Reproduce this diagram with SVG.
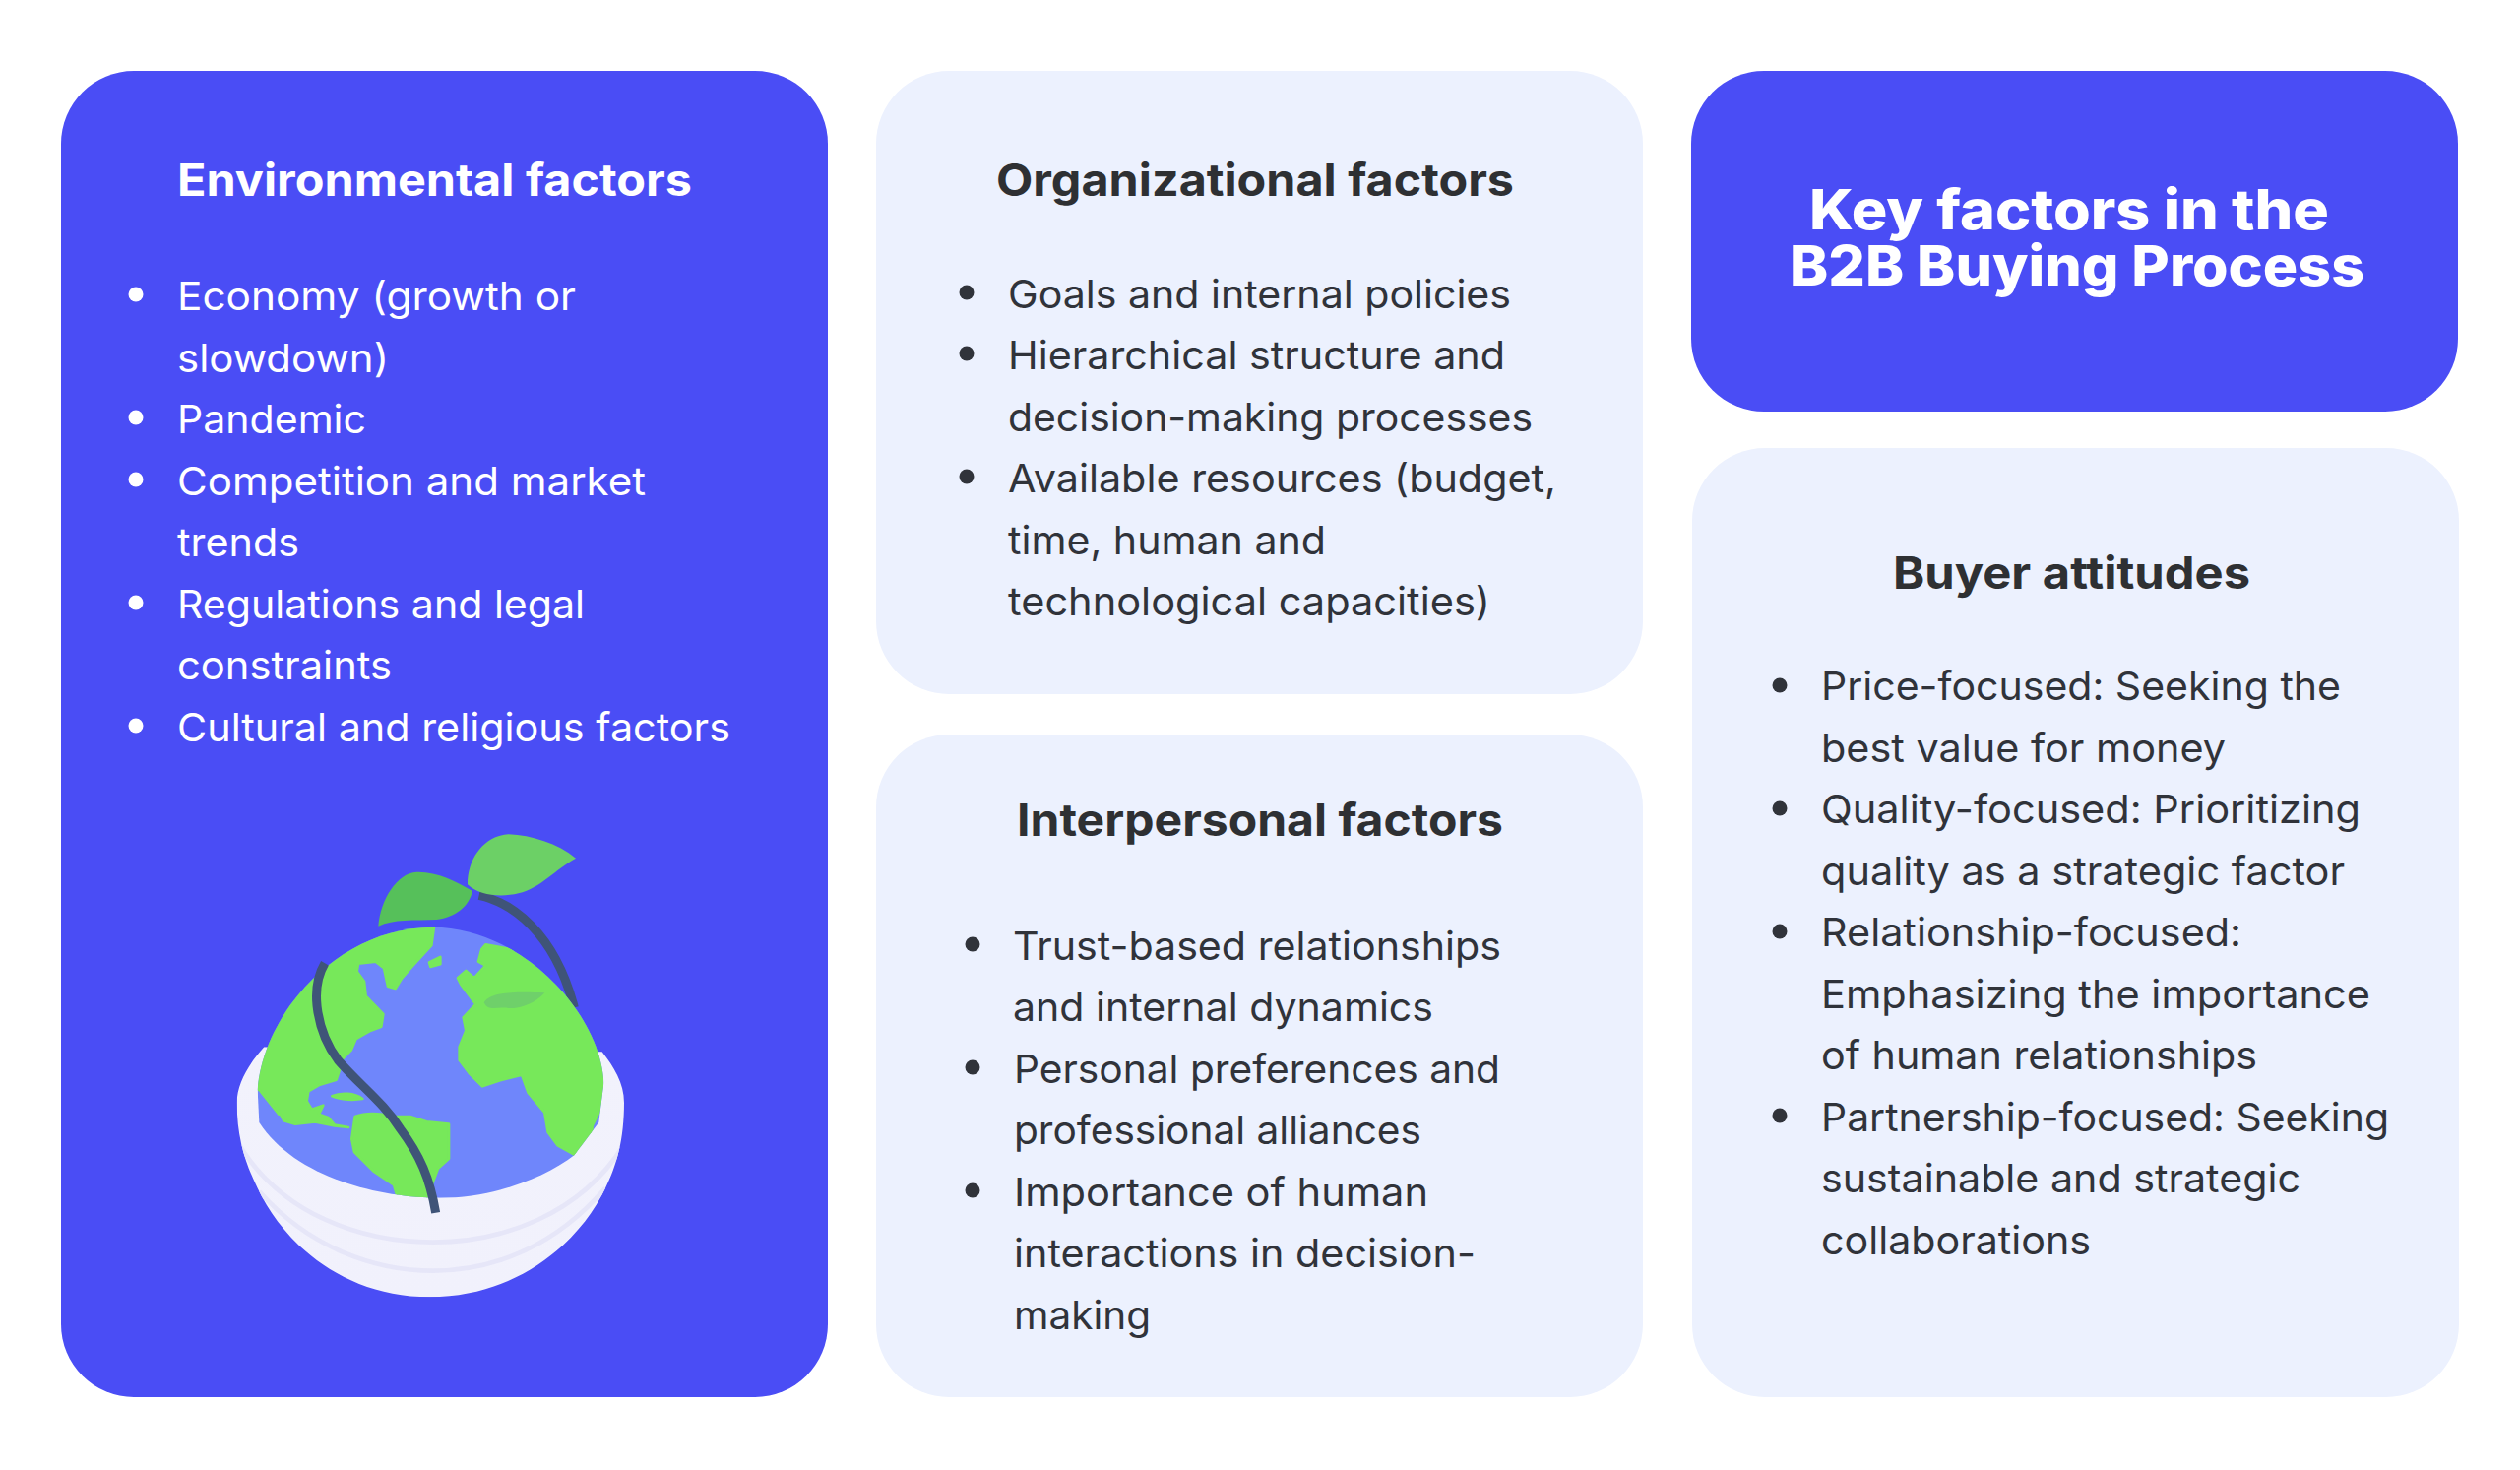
<svg xmlns="http://www.w3.org/2000/svg" width="2560" height="1493" viewBox="0 0 2560 1493">
<style>
text{font-family:Inter,"Noto Sans","Liberation Sans",sans-serif}
.blue{fill:#4a4df5}
.pale{fill:#ecf1fe}
.h{font-size:45px;font-weight:700}
.b{font-size:40px;font-weight:400}
.k{font-size:56px;font-weight:800;fill:#fff}
.w{fill:#fff}
.d{fill:#30333a}
.hd{fill:#2e3033}
.land{fill:#77e85a;stroke:#77e85a;stroke-width:8;stroke-linejoin:round}
.stem{fill:none;stroke:#3f5478;stroke-width:27}
.band{fill:none;stroke:#e6e6f8;stroke-width:14}
</style>
<defs>
<clipPath id="globeClip"><path d="M185 860C200 640 420 365 720 365C980 365 1230 620 1240 840L1225 960L1150 1060C1060 1130 900 1190 740 1190C560 1190 300 1130 190 960Z"/></clipPath>
<clipPath id="bowlClip"><path d="M122 900C122 1010 150 1090 185 1160C260 1320 440 1492 710 1492C980 1492 1170 1320 1245 1160C1280 1090 1302 1010 1302 900C1302 840 1270 790 1235 745L205 730C160 780 122 840 122 900Z"/></clipPath>
<linearGradient id="bowlG" x1="0" y1="0" x2="0" y2="1"><stop offset="0" stop-color="#f2f2fc"/><stop offset="1" stop-color="#f1f1fc"/></linearGradient>
</defs>
<rect width="2560" height="1493" fill="#fff"/>

<g id="environmental">
<rect class="blue" x="62" y="72" width="779" height="1347" rx="74"/>
<text class="h w" x="180" y="199" textLength="523" lengthAdjust="spacingAndGlyphs">Environmental factors</text>
<g class="w">
<circle cx="138" cy="299" r="7.5"/><circle cx="138" cy="424" r="7.5"/><circle cx="138" cy="487" r="7.5"/><circle cx="138" cy="612" r="7.5"/><circle cx="138" cy="737" r="7.5"/>
</g>
<text class="b w" x="180" y="315" textLength="405" lengthAdjust="spacingAndGlyphs">Economy (growth or</text>
<text class="b w" x="180" y="377.500" textLength="215" lengthAdjust="spacingAndGlyphs">slowdown)</text>
<text class="b w" x="180" y="440" textLength="192" lengthAdjust="spacingAndGlyphs">Pandemic</text>
<text class="b w" x="180" y="502.500" textLength="476" lengthAdjust="spacingAndGlyphs">Competition and market</text>
<text class="b w" x="180" y="565" textLength="124" lengthAdjust="spacingAndGlyphs">trends</text>
<text class="b w" x="180" y="627.500" textLength="414" lengthAdjust="spacingAndGlyphs">Regulations and legal</text>
<text class="b w" x="180" y="690" textLength="218" lengthAdjust="spacingAndGlyphs">constraints</text>
<text class="b w" x="180" y="752.500" textLength="562" lengthAdjust="spacingAndGlyphs">Cultural and religious factors</text>
<g id="globe-illustration" transform="translate(200 820) scale(0.33333)">
<path class="stem" d="M860 268C960 290 1090 380 1150 610"/>
<path fill="#56c05a" d="M553 362C560 280 610 200 670 197C730 195 790 225 840 255C830 300 790 335 730 342C660 345 600 340 553 362Z"/>
<path fill="#6cd066" d="M1155 155C1100 110 1020 85 950 82C880 85 825 150 825 235C860 270 930 275 980 262C1050 245 1090 190 1155 155Z"/>
<g clip-path="url(#bowlClip)">
<rect x="100" y="700" width="1240" height="820" fill="url(#bowlG)"/>
<path class="band" d="M130 1030C260 1240 500 1325 720 1325C930 1325 1170 1240 1300 1030"/>
<path class="band" d="M190 1170C340 1340 540 1412 720 1412C900 1412 1090 1340 1245 1160"/>
</g>
<g clip-path="url(#globeClip)">
<rect x="150" y="340" width="1120" height="880" fill="#6f86fb"/>
<path class="land" d="M725 350L715 420L660 480L625 520L605 552L582 545L570 490L545 470L492 476L488 500L510 530L515 575L568 630L562 668L530 680L485 705L470 740L445 765L435 800L425 830L375 845L340 865L335 895L350 920L385 908L372 935L400 945L420 968L462 975L420 970L360 958L300 965L265 955L240 905L250 935L190 860L140 860L140 340Z"/>
<path class="land" d="M412 880C440 868 480 870 505 888C480 892 440 892 412 880Z"/>
<path class="land" d="M482 942C520 928 560 932 600 942L650 942L700 958L768 965L768 1010L768 1070L735 1100L720 1140L700 1200L615 1200L600 1150L540 1110L480 1050L472 1010Z"/>
<path class="land" d="M880 418L1000 440L1280 700L1280 850L1238 850L1225 930L1205 970L1200 1030L1150 1058L1100 1030L1070 990L1060 930L1010 870L990 815L930 830L870 850L830 810L800 770L800 730L820 680L812 640L850 600L805 540L795 520L820 498L845 520L880 482L858 470L868 432Z"/>
<path class="land" d="M708 472L742 456L742 478L712 486Z"/>
<path fill="#6fd06a" d="M875 595C890 565 960 560 1060 565C1040 590 990 615 950 612C920 605 890 625 875 595Z"/>
</g>
<path class="stem" d="M390 475C340 560 370 690 430 770C500 850 570 900 620 980C680 1060 710 1130 728 1235"/>
</g>
</g>

<g id="organizational">
<rect class="pale" x="890" y="72" width="779" height="633" rx="74"/>
<text class="h hd" x="1012" y="199" textLength="526" lengthAdjust="spacingAndGlyphs">Organizational factors</text>
<g class="d"><circle cx="982" cy="297" r="7.5"/><circle cx="982" cy="359" r="7.5"/><circle cx="982" cy="484" r="7.5"/></g>
<text class="b d" x="1024" y="312.500" textLength="511" lengthAdjust="spacingAndGlyphs">Goals and internal policies</text>
<text class="b d" x="1024" y="375" textLength="505" lengthAdjust="spacingAndGlyphs">Hierarchical structure and</text>
<text class="b d" x="1024" y="437.500" textLength="533" lengthAdjust="spacingAndGlyphs">decision-making processes</text>
<text class="b d" x="1024" y="500" textLength="557" lengthAdjust="spacingAndGlyphs">Available resources (budget,</text>
<text class="b d" x="1024" y="562.500" textLength="323" lengthAdjust="spacingAndGlyphs">time, human and</text>
<text class="b d" x="1024" y="625" textLength="490" lengthAdjust="spacingAndGlyphs">technological capacities)</text>
</g>

<g id="interpersonal">
<rect class="pale" x="890" y="746" width="779" height="673" rx="74"/>
<text class="h hd" x="1033" y="849" textLength="494" lengthAdjust="spacingAndGlyphs">Interpersonal factors</text>
<g class="d"><circle cx="988" cy="959" r="7.5"/><circle cx="988" cy="1084" r="7.5"/><circle cx="988" cy="1209" r="7.5"/></g>
<text class="b d" x="1029" y="974.500" textLength="496" lengthAdjust="spacingAndGlyphs">Trust-based relationships</text>
<text class="b d" x="1029" y="1037" textLength="427" lengthAdjust="spacingAndGlyphs">and internal dynamics</text>
<text class="b d" x="1030" y="1099.500" textLength="494" lengthAdjust="spacingAndGlyphs">Personal preferences and</text>
<text class="b d" x="1030" y="1162" textLength="414" lengthAdjust="spacingAndGlyphs">professional alliances</text>
<text class="b d" x="1030" y="1224.500" textLength="421" lengthAdjust="spacingAndGlyphs">Importance of human</text>
<text class="b d" x="1030" y="1287" textLength="469" lengthAdjust="spacingAndGlyphs">interactions in decision-</text>
<text class="b d" x="1030" y="1349.500" textLength="139" lengthAdjust="spacingAndGlyphs">making</text>
</g>

<g id="title">
<rect class="blue" x="1718" y="72" width="779" height="346" rx="74"/>
<text class="k" x="1838" y="233" textLength="528" lengthAdjust="spacingAndGlyphs">Key factors in the</text>
<text class="k" x="1818" y="290" textLength="584" lengthAdjust="spacingAndGlyphs">B2B Buying Process</text>
</g>

<g id="buyer-attitudes">
<rect class="pale" x="1719" y="455" width="779" height="964" rx="74"/>
<text class="h hd" x="1923" y="598" textLength="363" lengthAdjust="spacingAndGlyphs">Buyer attitudes</text>
<g class="d"><circle cx="1808" cy="696" r="7.5"/><circle cx="1808" cy="821" r="7.5"/><circle cx="1808" cy="946" r="7.5"/><circle cx="1808" cy="1133" r="7.5"/></g>
<text class="b d" x="1850" y="711" textLength="528" lengthAdjust="spacingAndGlyphs">Price-focused: Seeking the</text>
<text class="b d" x="1850" y="773.500" textLength="411" lengthAdjust="spacingAndGlyphs">best value for money</text>
<text class="b d" x="1850" y="836" textLength="548" lengthAdjust="spacingAndGlyphs">Quality-focused: Prioritizing</text>
<text class="b d" x="1850" y="898.500" textLength="532" lengthAdjust="spacingAndGlyphs">quality as a strategic factor</text>
<text class="b d" x="1850" y="961" textLength="427" lengthAdjust="spacingAndGlyphs">Relationship-focused:</text>
<text class="b d" x="1850" y="1023.500" textLength="558" lengthAdjust="spacingAndGlyphs">Emphasizing the importance</text>
<text class="b d" x="1850" y="1086" textLength="443" lengthAdjust="spacingAndGlyphs">of human relationships</text>
<text class="b d" x="1850" y="1148.500" textLength="577" lengthAdjust="spacingAndGlyphs">Partnership-focused: Seeking</text>
<text class="b d" x="1850" y="1211" textLength="487" lengthAdjust="spacingAndGlyphs">sustainable and strategic</text>
<text class="b d" x="1850" y="1273.500" textLength="274" lengthAdjust="spacingAndGlyphs">collaborations</text>
</g>
</svg>
